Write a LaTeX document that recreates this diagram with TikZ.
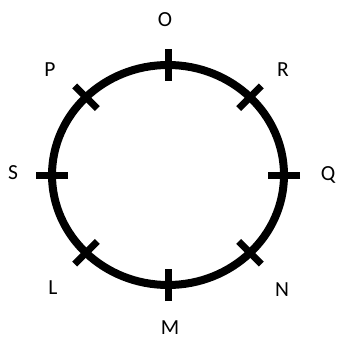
\documentclass[tikz,border=0pt]{standalone}
\usepackage{fontspec}
\setmainfont{Carlito}
\usetikzlibrary{calc}

\begin{document}
\begin{tikzpicture}[x=1pt, y=-1pt, line width=8pt,
    tick/.style={line width=7pt},
    lbl/.style={font=\fontsize{21.5}{25}\selectfont, inner sep=0pt}]
  \useasboundingbox (0,0) rectangle (340,340);
  % Circle
  \coordinate (c) at (168,175);
  \draw (c) ellipse [x radius=116, y radius=110];
  % Ticks on the circle
  \foreach \a/\n in {90/O, 45/R, 0/Q, -45/N, -90/M, -135/L, 180/S, 135/P} {
    \coordinate (t\n) at ($(c)+({116*cos(\a)},{-110*sin(\a)})$);
    \draw[tick] ($(t\n)+({16*cos(\a)},{-16*sin(\a)})$) -- ($(t\n)-({16*cos(\a)},{-16*sin(\a)})$);
  }
  % Labels
  \node[lbl] (lO) at (165,20) {O};
  \node[lbl] (lR) at (283,70) {R};
  \node[lbl] (lQ) at (328,175) {Q};
  \node[lbl] (lN) at (282,290) {N};
  \node[lbl] (lM) at (170,328) {M};
  \node[lbl] (lL) at (53,288) {L};
  \node[lbl] (lS) at (13,173) {S};
  \node[lbl] (lP) at (50,70) {P};
\end{tikzpicture}
\end{document}
